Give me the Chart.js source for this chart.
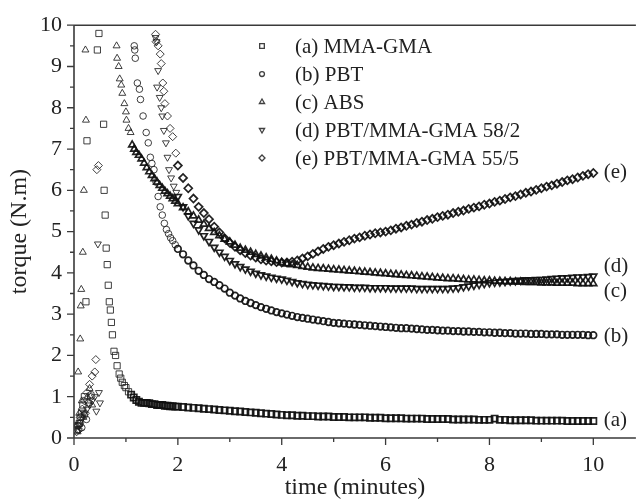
<!DOCTYPE html>
<html><head><meta charset="utf-8">
<script src="https://cdn.jsdelivr.net/npm/chart.js@4/dist/chart.umd.min.js"></script>
<style>html,body{margin:0;padding:0;background:#fff;}canvas{display:block;}</style>
</head><body>
<canvas id="c" width="642" height="500"></canvas>
<script>
// ---------- data ----------
const seriesNames = ['(a) MMA-GMA', '(b) PBT', '(c) ABS', '(d) PBT/MMA-GMA 58/2', '(e) PBT/MMA-GMA 55/5'];
const seriesTags = ['(a)', '(b)', '(c)', '(d)', '(e)'];
const tagTorque = [0.43, 2.45, 3.55, 4.15, 6.42];
const xMajorTicks = [0, 2, 4, 6, 8, 10];
const xMinorTicks = [1, 3, 5, 7, 9];
const yMajorTicks = [0, 1, 2, 3, 4, 5, 6, 7, 8, 9, 10];
const yMinorTicks = [0.5, 1.5, 2.5, 3.5, 4.5, 5.5, 6.5, 7.5, 8.5, 9.5];

// shared time grid for the slow part of every run (minutes)
const timeGrid = [
  2.0,2.1,2.2,2.3,2.4,2.5,2.6,2.7,2.8,2.9,
  3.0,3.1,3.2,3.3,3.4,3.5,3.6,3.7,3.8,3.9,
  4.0,4.1,4.2,4.3,4.4,4.5,4.6,4.7,4.8,4.9,
  5.0,5.1,5.2,5.3,5.4,5.5,5.6,5.7,5.8,5.9,
  6.0,6.1,6.2,6.3,6.4,6.5,6.6,6.7,6.8,6.9,
  7.0,7.1,7.2,7.3,7.4,7.5,7.6,7.7,7.8,7.9,
  8.0,8.1,8.2,8.3,8.4,8.5,8.6,8.7,8.8,8.9,
  9.0,9.1,9.2,9.3,9.4,9.5,9.6,9.7,9.8,9.9,
  10.0];

// (a) MMA-GMA
const timeA = [0.05,0.07,0.1,0.12,0.15,0.17,0.2,0.23,0.25,0.45,0.48,0.57,0.58,0.6,0.62,0.64,0.66,0.68,0.7,0.72,0.74,0.77,0.8,0.83,0.87,0.9,0.93,0.97,1.0,1.05,1.1,1.15,1.2,1.25,1.3,1.35,1.4,1.45,1.5,1.55,1.6,1.65,1.7,1.75,1.8,1.85,1.9,1.95];
const torqueA = [0.2,0.3,0.35,0.5,0.6,0.8,1.0,3.3,7.2,9.4,9.8,7.6,6.0,5.4,4.6,4.2,3.7,3.3,3.1,2.8,2.5,2.1,2.0,1.75,1.55,1.45,1.35,1.27,1.22,1.12,1.05,0.98,0.92,0.88,0.85,0.85,0.85,0.84,0.82,0.82,0.8,0.8,0.8,0.78,0.78,0.77,0.77,0.76];
const torqueLateA = [
  0.76,0.75,0.74,0.73,0.72,0.71,0.70,0.69,0.68,0.67,
  0.66,0.65,0.64,0.63,0.62,0.61,0.60,0.59,0.58,0.57,
  0.56,0.55,0.55,0.54,0.54,0.53,0.53,0.52,0.52,0.52,
  0.51,0.51,0.51,0.50,0.50,0.50,0.50,0.49,0.49,0.49,
  0.48,0.48,0.48,0.48,0.47,0.47,0.47,0.47,0.46,0.46,
  0.46,0.46,0.46,0.45,0.45,0.45,0.45,0.45,0.44,0.44,
  0.44,0.47,0.44,0.44,0.43,0.43,0.43,0.43,0.43,0.42,
  0.42,0.42,0.42,0.42,0.42,0.41,0.41,0.41,0.41,0.41,
  0.41];

// (b) PBT
const timeB = [0.08,0.12,0.2,0.28,0.33,0.15,0.24,1.16,1.17,1.18,1.22,1.26,1.28,1.33,1.39,1.43,1.47,1.5,1.54,1.58,1.62,1.66,1.7,1.74,1.78,1.82,1.86,1.9,1.95];
const torqueB = [0.2,0.35,0.55,0.85,1.05,0.25,0.45,9.5,9.4,9.2,8.6,8.45,8.2,7.8,7.4,7.15,6.8,6.65,6.5,6.2,5.85,5.6,5.4,5.2,5.05,4.95,4.85,4.78,4.68];
const torqueLateB = [
  4.58,4.45,4.3,4.18,4.05,3.95,3.85,3.78,3.7,3.62,
  3.52,3.45,3.38,3.32,3.27,3.22,3.17,3.13,3.09,3.05,
  3.02,2.99,2.96,2.93,2.91,2.89,2.87,2.85,2.83,2.81,
  2.79,2.78,2.77,2.76,2.75,2.74,2.73,2.72,2.71,2.7,
  2.69,2.68,2.67,2.66,2.66,2.65,2.64,2.63,2.62,2.62,
  2.61,2.6,2.6,2.59,2.59,2.58,2.58,2.57,2.57,2.56,
  2.56,2.55,2.55,2.54,2.54,2.53,2.53,2.53,2.52,2.52,
  2.52,2.51,2.51,2.51,2.5,2.5,2.5,2.5,2.5,2.49,
  2.49];

// (c) ABS
const timeC = [0.05,0.08,0.1,0.12,0.13,0.14,0.15,0.17,0.19,0.23,0.22,0.3,0.35,0.07,0.18,0.26,0.82,0.83,0.86,0.88,0.91,0.93,0.97,1.0,1.01,1.05,1.09,1.12,1.16,1.2,1.25,1.3,1.35,1.4,1.45,1.5,1.55,1.6,1.65,1.7,1.75,1.8,1.85,1.9,1.95];
const torqueC = [0.3,1.6,0.6,2.4,3.2,3.6,0.9,4.5,6.0,7.7,9.4,1.2,0.8,0.15,0.5,1.0,9.5,9.2,9.0,8.7,8.55,8.35,8.1,7.9,7.7,7.5,7.4,7.1,7.0,6.92,6.85,6.76,6.66,6.55,6.45,6.36,6.28,6.2,6.12,6.05,5.98,5.92,5.86,5.8,5.74];
const torqueLateC = [
  5.68,5.58,5.48,5.38,5.28,5.18,5.08,4.98,4.9,4.82,
  4.75,4.67,4.6,4.55,4.5,4.45,4.41,4.37,4.33,4.29,
  4.25,4.22,4.2,4.18,4.16,4.14,4.12,4.11,4.1,4.09,
  4.08,4.07,4.06,4.05,4.04,4.03,4.02,4.01,4.0,3.99,
  3.98,3.97,3.96,3.95,3.94,3.93,3.92,3.91,3.9,3.89,
  3.88,3.87,3.86,3.86,3.85,3.84,3.83,3.83,3.82,3.81,
  3.81,3.8,3.8,3.79,3.79,3.78,3.78,3.77,3.77,3.77,
  3.76,3.76,3.76,3.75,3.75,3.75,3.75,3.74,3.74,3.74,
  3.74];

// (d) PBT/MMA-GMA 58/2
const timeD = [0.1,0.15,0.2,0.25,0.3,0.35,0.4,0.46,0.5,0.43,0.48,1.57,1.59,1.6,1.62,1.65,1.68,1.7,1.73,1.77,1.8,1.83,1.87,1.92,1.97];
const torqueD = [0.3,0.45,0.6,0.7,0.8,0.9,1.0,4.7,0.85,0.65,1.1,9.7,9.6,8.5,8.9,8.25,8.0,7.8,7.45,7.15,6.8,6.5,6.3,6.1,5.95];
const torqueLateD = [
  5.85,5.6,5.38,5.2,5.04,4.9,4.76,4.62,4.5,4.4,
  4.3,4.22,4.15,4.09,4.04,3.99,3.95,3.92,3.89,3.87,
  3.85,3.82,3.79,3.76,3.74,3.72,3.71,3.7,3.69,3.68,
  3.67,3.67,3.66,3.66,3.65,3.65,3.65,3.64,3.64,3.64,
  3.64,3.63,3.63,3.63,3.63,3.63,3.62,3.62,3.62,3.62,
  3.62,3.62,3.62,3.63,3.64,3.66,3.68,3.7,3.72,3.74,
  3.76,3.77,3.78,3.79,3.8,3.81,3.82,3.83,3.83,3.84,
  3.84,3.85,3.86,3.87,3.88,3.88,3.89,3.9,3.9,3.91,
  3.92];

// (e) PBT/MMA-GMA 55/5
const timeE = [0.05,0.08,0.12,0.16,0.2,0.25,0.3,0.35,0.4,0.42,0.44,0.47,0.1,0.22,0.33,1.57,1.58,1.62,1.66,1.68,1.71,1.73,1.75,1.8,1.85,1.9,1.96];
const torqueE = [0.15,0.3,0.5,0.7,0.9,1.1,1.3,1.5,1.6,1.9,6.5,6.6,0.2,0.6,1.0,9.78,9.6,9.5,9.3,9.07,8.6,8.4,8.1,7.8,7.5,7.3,6.9];
const torqueLateE = [
  6.6,6.3,6.05,5.8,5.6,5.45,5.3,5.12,4.98,4.84,
  4.73,4.63,4.55,4.48,4.42,4.37,4.33,4.3,4.28,4.26,
  4.25,4.25,4.27,4.3,4.35,4.4,4.46,4.52,4.58,4.63,
  4.67,4.71,4.75,4.79,4.83,4.86,4.9,4.93,4.96,4.98,
  5.0,5.03,5.07,5.1,5.14,5.17,5.21,5.24,5.28,5.31,
  5.35,5.38,5.41,5.45,5.48,5.51,5.55,5.58,5.61,5.65,
  5.68,5.72,5.75,5.79,5.83,5.86,5.9,5.94,5.97,6.01,
  6.05,6.09,6.12,6.16,6.2,6.24,6.27,6.31,6.35,6.39,
  6.42];

// ---------- build ----------
// time from which each run's record becomes a dense, overlapping band
const denseFrom = [1.1, 2.0, 1.12, 2.0, 2.0];

function points(ts, vs, lateVs, from) {
  const out = [];
  const n = Math.min(ts.length, vs.length);
  for (let i = 0; i < n; i++) out.push({x: ts[i], y: vs[i], dense: ts[i] >= from});
  const m = Math.min(timeGrid.length, lateVs.length);
  for (let i = 0; i < m; i++) out.push({x: timeGrid[i], y: lateVs[i], dense: true});
  return out;
}

const markerStyles = [
  {pointStyle: 'rect', radius: 4.4, rotation: 0},
  {pointStyle: 'circle', radius: 3.3, rotation: 0},
  {pointStyle: 'triangle', radius: 4.0, rotation: 0},
  {pointStyle: 'triangle', radius: 4.0, rotation: 180},
  {pointStyle: 'rectRot', radius: 4.0, rotation: 0}
];
const ink = 'rgba(30,30,30,0.85)';
const denseInk = 'rgba(15,15,15,0.92)';
const allSeries = [
  points(timeA, torqueA, torqueLateA, denseFrom[0]),
  points(timeB, torqueB, torqueLateB, denseFrom[1]),
  points(timeC, torqueC, torqueLateC, denseFrom[2]),
  points(timeD, torqueD, torqueLateD, denseFrom[3]),
  points(timeE, torqueE, torqueLateE, denseFrom[4])
];

const datasets = allSeries.map((d, i) => ({
  label: seriesNames[i],
  data: d,
  showLine: false,
  pointStyle: markerStyles[i].pointStyle,
  pointRadius: markerStyles[i].radius,
  pointRotation: markerStyles[i].rotation,
  pointBorderWidth: c => (c.raw && c.raw.dense ? 1.7 : 1.0),
  pointBorderColor: c => (c.raw && c.raw.dense ? denseInk : ink),
  pointBackgroundColor: 'rgba(255,255,255,0)',
  pointHoverRadius: markerStyles[i].radius
}));

const serif = "'Liberation Serif', 'Times New Roman', serif";
const axisColor = '#3a3a3a';

const framePlugin = {
  id: 'frame',
  afterDraw(chart) {
    const {ctx, chartArea: ca, scales: {x, y}} = chart;
    ctx.save();
    ctx.strokeStyle = axisColor;
    ctx.lineWidth = 1.6;
    ctx.beginPath();
    ctx.moveTo(ca.left, ca.top); ctx.lineTo(ca.right, ca.top);
    ctx.moveTo(ca.left, ca.top); ctx.lineTo(ca.left, ca.bottom);
    ctx.moveTo(ca.left, ca.bottom); ctx.lineTo(ca.right, ca.bottom);
    ctx.stroke();
    ctx.lineWidth = 1.3;
    ctx.beginPath();
    xMajorTicks.forEach(v => { const px = x.getPixelForValue(v); ctx.moveTo(px, ca.bottom); ctx.lineTo(px, ca.bottom + 7); });
    xMinorTicks.forEach(v => { const px = x.getPixelForValue(v); ctx.moveTo(px, ca.bottom); ctx.lineTo(px, ca.bottom + 4); });
    yMajorTicks.forEach(v => { const py = y.getPixelForValue(v); ctx.moveTo(ca.left, py); ctx.lineTo(ca.left - 7, py); });
    yMinorTicks.forEach(v => { const py = y.getPixelForValue(v); ctx.moveTo(ca.left, py); ctx.lineTo(ca.left - 4, py); });
    ctx.stroke();

    // legend
    ctx.font = '21px ' + serif;
    ctx.textBaseline = 'middle';
    ctx.textAlign = 'left';
    seriesNames.forEach((name, i) => {
      const yy = 46 + 28 * i;
      ctx.strokeStyle = ink;
      ctx.fillStyle = 'rgba(255,255,255,0)';
      Chart.helpers.drawPoint(ctx, {pointStyle: markerStyles[i].pointStyle, radius: markerStyles[i].radius * 0.75, rotation: markerStyles[i].rotation, borderWidth: 1}, 262, yy);
      ctx.fillStyle = '#222';
      ctx.fillText(name, 295, yy + 1);
    });

    // curve tags at right
    ctx.fillStyle = '#222';
    seriesTags.forEach((t, i) => {
      ctx.fillText(t, x.getPixelForValue(10.2), y.getPixelForValue(tagTorque[i]));
    });
    ctx.restore();
  }
};

new Chart(document.getElementById('c'), {
  type: 'scatter',
  data: {datasets},
  options: {
    responsive: false,
    animation: false,
    devicePixelRatio: 1,
    layout: {padding: {top: 21, right: 0, bottom: 0, left: 0}},
    plugins: {legend: {display: false}, tooltip: {enabled: false}},
    scales: {
      x: {
        type: 'linear', min: 0, max: 10.82,
        grid: {display: false, drawTicks: false},
        border: {display: false},
        afterBuildTicks: s => { s.ticks = xMajorTicks.map(v => ({value: v})); },
        afterFit: s => { s.height = 62; },
        ticks: {padding: 14, color: '#222', font: {family: serif, size: 22}, maxRotation: 0, autoSkip: false},
        title: {display: true, text: 'time (minutes)', color: '#222', font: {family: serif, size: 24, lineHeight: 1}, padding: {top: 0, bottom: 0}}
      },
      y: {
        type: 'linear', min: 0, max: 10,
        grid: {display: false, drawTicks: false},
        border: {display: false},
        afterBuildTicks: s => { s.ticks = yMajorTicks.map(v => ({value: v})); },
        afterFit: s => { s.width = 74; },
        ticks: {padding: 12, color: '#222', font: {family: serif, size: 22}, autoSkip: false},
        title: {display: true, text: 'torque (N.m)', color: '#222', font: {family: serif, size: 24, lineHeight: 1}, padding: {top: 8, bottom: 0}}
      }
    }
  },
  plugins: [framePlugin]
});
</script>
</body></html>
